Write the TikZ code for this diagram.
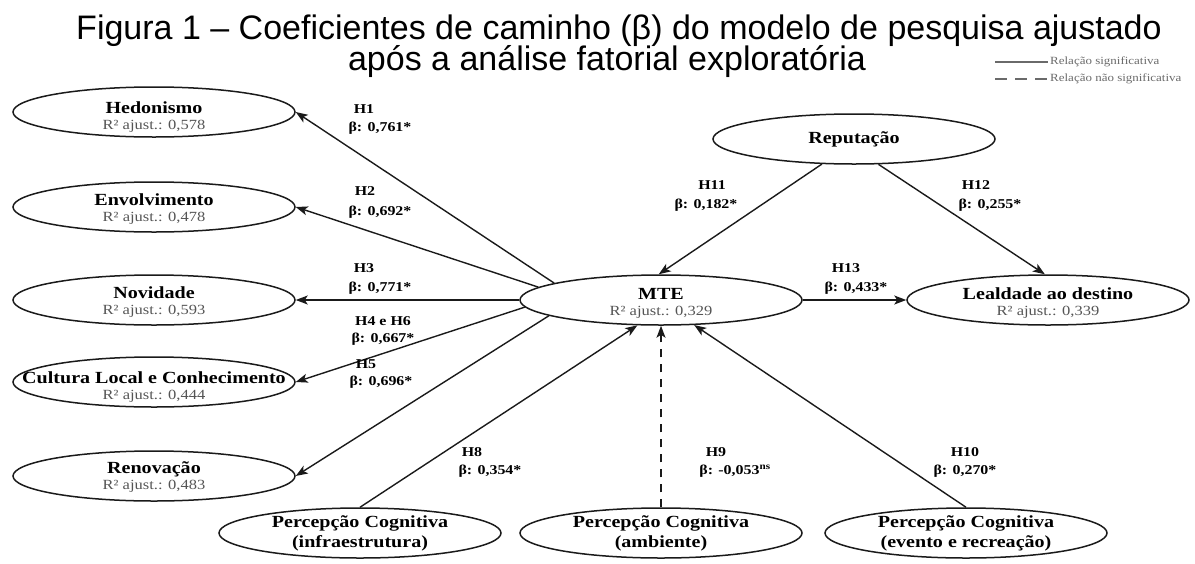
\documentclass[tikz,border=0pt]{standalone}
\usepackage{fontspec}
\usetikzlibrary{shapes.geometric,arrows.meta}
\setmainfont{Liberation Serif}
\newfontfamily\tnr[FakeStretch=1.18]{Liberation Serif}
\newfontfamily\arialS{Liberation Sans}
\definecolor{rgray}{HTML}{555555}
\definecolor{lgray}{HTML}{6A6A6A}
\definecolor{ink}{HTML}{1A1A1A}
\newcommand\ndname[1]{{\bfseries\fontsize{17}{17}\selectfont #1}}
\newcommand\rsq[1]{{\color{rgray}\fontsize{14}{15}\selectfont R² ajust.: #1}}
\tikzset{
  ell/.style={draw=ink, ellipse, line width=1.5pt, minimum width=282pt, minimum height=50pt,
              inner sep=0pt},
  nt/.style={align=center, inner sep=0pt, font=\tnr\fontsize{14}{16}\selectfont},
  nt2/.style={align=center, inner sep=0pt, font=\tnr\bfseries\fontsize{17}{20}\selectfont},
  arr/.style={draw=ink, line width=1.4pt, -{Stealth[length=12pt,width=9pt,inset=3pt]}},
  hl/.style={font=\tnr\bfseries\fontsize{13.5}{15}\selectfont, inner sep=0pt},
  ttl/.style={font=\arialS\fontsize{34}{36}\selectfont, inner sep=0pt, anchor=base},
  leg/.style={font=\tnr\fontsize{11}{12}\selectfont, text=lgray, inner sep=0pt, anchor=west},
}
\begin{document}
\begin{tikzpicture}[x=1pt,y=-1pt]
\useasboundingbox (0,0) rectangle (1195,563);
% title
\node[ttl] (t1) at (619,39) {Figura 1 – Coeficientes de caminho (β) do modelo de pesquisa ajustado};
\node[ttl] (t2) at (607,70) {após a análise fatorial exploratória};
% legend
\coordinate (la1) at (995,62);
\coordinate (la2) at (1048,62);
\coordinate (lb1) at (995,79);
\coordinate (lb2) at (1048,79);
\draw[lgray, line width=1.2pt] (la1) -- (la2);
\draw[lgray, line width=1.2pt, dash pattern=on 12pt off 8pt] (lb1) -- (lb2);
\node[leg] (lt1) at (1050,62) {Relação significativa};
\node[leg] (lt2) at (1050,79) {Relação não significativa};
% left nodes
\node[ell] (hed) at (154,112) {};
\node[nt] (hedt) at (154,117) {\ndname{Hedonismo}\\\rsq{0,578}};
\node[ell] (env) at (154,207) {};
\node[nt] (envt) at (154,209) {\ndname{Envolvimento}\\\rsq{0,478}};
\node[ell] (nov) at (154,300) {};
\node[nt] (novt) at (154,302) {\ndname{Novidade}\\\rsq{0,593}};
\node[ell] (cul) at (154,382) {};
\node[nt] (cult) at (154,387) {\ndname{Cultura Local e Conhecimento}\\\rsq{0,444}};
\node[ell] (ren) at (154,476) {};
\node[nt] (rent) at (154,477) {\ndname{Renovação}\\\rsq{0,483}};
% centre and right
\node[ell] (mte) at (661,300) {};
\node[nt] (mtet) at (661,303) {\ndname{MTE}\\\rsq{0,329}};
\node[ell] (leal) at (1048,300) {};
\node[nt] (lealt) at (1048,303) {\ndname{Lealdade ao destino}\\\rsq{0,339}};
\node[ell] (rep) at (854,139) {};
\node[nt2] (rept) at (854,139) {Reputação};
% bottom
\node[ell] (inf) at (360,533) {};
\node[nt2] (inft) at (360,533) {Percepção Cognitiva\\(infraestrutura)};
\node[ell] (amb) at (661,533) {};
\node[nt2] (ambt) at (661,533) {Percepção Cognitiva\\(ambiente)};
\node[ell] (evt) at (966,533) {};
\node[nt2] (evtt) at (966,533) {Percepção Cognitiva\\(evento e recreação)};
% connectors
\draw[arr] (mte.171) -- (hed.east);
\draw[arr] (mte.174) -- (env.east);
\draw[arr] (mte.west) -- (nov.east);
\draw[arr] (mte.183.4) -- (cul.east);
\draw[arr] (mte.188.8) -- (ren.east);
\draw[arr] (inf.north) -- (mte.227);
\draw[arr, dash pattern=on 8pt off 7pt] (amb.north) -- (mte.south);
\draw[arr] (evt.north) -- (mte.323);
\draw[arr] (rep.218) -- (mte.95);
\draw[arr] (rep.314) -- (leal.97);
\draw[arr] (mte.east) -- (leal.west);
% labels
\node[hl] (l1a) at (364,109) {H1};
\node[hl] (l1b) at (380,128) {β: 0,761*};
\node[hl] (l2a) at (365,191) {H2};
\node[hl] (l2b) at (380,212) {β: 0,692*};
\node[hl] (l3a) at (364,268) {H3};
\node[hl] (l3b) at (380,288) {β: 0,771*};
\node[hl] (l4a) at (383,321) {H4 e H6};
\node[hl] (l4b) at (383,339) {β: 0,667*};
\node[hl] (l5a) at (366,364) {H5};
\node[hl] (l5b) at (381,382) {β: 0,696*};
\node[hl] (l8a) at (472,452) {H8};
\node[hl] (l8b) at (490,471) {β: 0,354*};
\node[hl] (l9a) at (716,452) {H9};
\node[hl] (l9b) at (735,471) {β: -0,053\textsuperscript{ns}};
\node[hl] (l10a) at (965,452) {H10};
\node[hl] (l10b) at (965,471) {β: 0,270*};
\node[hl] (l11a) at (712,185) {H11};
\node[hl] (l11b) at (706,205) {β: 0,182*};
\node[hl] (l12a) at (976,185) {H12};
\node[hl] (l12b) at (990,205) {β: 0,255*};
\node[hl] (l13a) at (846,268) {H13};
\node[hl] (l13b) at (856,288) {β: 0,433*};
\end{tikzpicture}
\end{document}
